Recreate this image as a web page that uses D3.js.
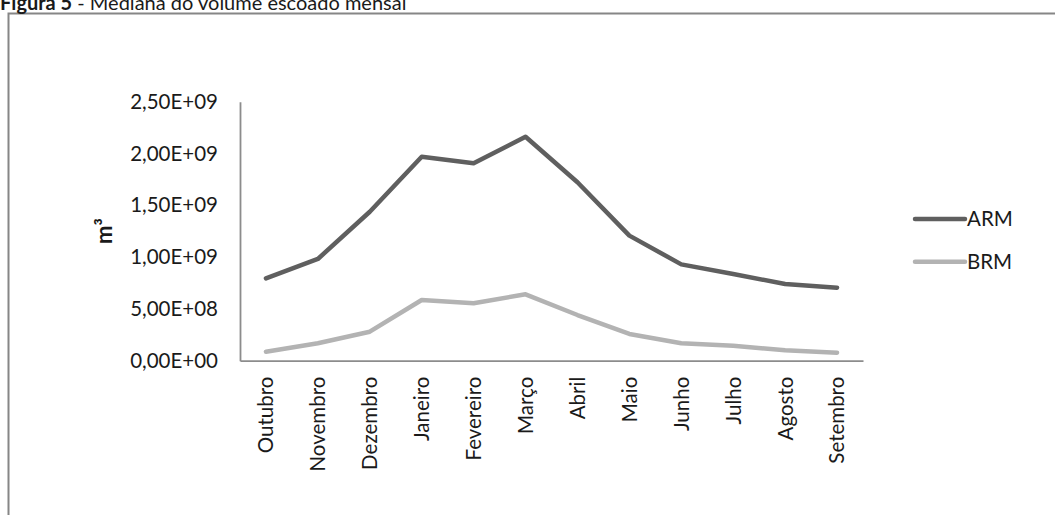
<!DOCTYPE html>
<html>
<head>
<meta charset="utf-8">
<script src="https://cdn.jsdelivr.net/npm/d3@7/dist/d3.min.js"></script>
<style>
  html, body { margin: 0; padding: 0; background: #fff; }
  svg { display: block; }
  text { font-family: Lato, "Open Sans", sans-serif; fill: #1a1a1a; }
</style>
</head>
<body>
<svg id="chart" width="1055" height="515"></svg>
<script>
// Median monthly runoff volume (m³), hydrological year October → September
const months = ["Outubro", "Novembro", "Dezembro", "Janeiro", "Fevereiro", "Março",
                "Abril", "Maio", "Junho", "Julho", "Agosto", "Setembro"];
const armValues = [7.95e8, 9.82e8, 1.438e9, 1.969e9, 1.905e9, 2.162e9,
                   1.722e9, 1.207e9, 9.30e8, 8.37e8, 7.40e8, 7.05e8];
const brmValues = [8.7e7, 1.68e8, 2.80e8, 5.86e8, 5.54e8, 6.41e8,
                   4.41e8, 2.58e8, 1.68e8, 1.45e8, 1.00e8, 7.7e7];
const yTicks = [0, 5e8, 1e9, 1.5e9, 2e9, 2.5e9];
const seriesNames = ["ARM", "BRM"];
const seriesColors = ["#5f5f5f", "#b3b3b3"];

const svg = d3.select("#chart");

// Excel-style scientific label: 2,50E+09
function sciLabel(v) {
  if (v === 0) return "0,00E+00";
  const exp = Math.floor(Math.log10(v));
  const mant = v / Math.pow(10, exp);
  return mant.toFixed(2).replace(".", ",") + "E+" + String(exp).padStart(2, "0");
}

// Frame of the figure
svg.append("path")
  .attr("d", "M1055,13.5 H8.5 V515")
  .attr("fill", "none")
  .attr("stroke", "#868686")
  .attr("stroke-width", 2);

// Caption
const title = svg.append("text")
  .attr("x", 0).attr("y", 9.5)
  .style("font-size", "20px");
title.append("tspan").style("font-weight", "bold").text("Figura 5");
title.append("tspan").text(" - Mediana do volume escoado mensal");

const x = d3.scaleBand().domain(months).range([240, 863]);
const y = d3.scaleLinear().domain([0, 2.5e9]).range([360.7, 101.7]);

// Y axis
const yAxis = svg.append("g")
  .attr("transform", "translate(240,0)")
  .call(d3.axisLeft(y).tickValues(yTicks).tickSize(0).tickPadding(22).tickFormat(sciLabel));
yAxis.select(".domain").attr("stroke", "#8c8c8c").attr("stroke-width", 1.8);
yAxis.selectAll("text")
  .style("font-size", "20.5px").style("font-family", null)
  .attr("fill", "#1a1a1a");

// X axis
const xAxis = svg.append("g")
  .attr("transform", "translate(0,360.7)")
  .call(d3.axisBottom(x).tickSize(0).tickSizeOuter(0));
xAxis.select(".domain").attr("stroke", "#8c8c8c").attr("stroke-width", 1.8);
xAxis.selectAll(".tick text")
  .style("font-size", "20.5px").style("font-family", null)
  .attr("fill", "#1a1a1a")
  .attr("text-anchor", "end")
  .attr("transform", "rotate(-90)")
  .attr("x", -16)
  .attr("y", 0)
  .attr("dy", "0.36em");

// Y axis title
svg.append("text")
  .attr("transform", "translate(104,231) rotate(-90)")
  .attr("text-anchor", "middle")
  .attr("dy", "0.35em")
  .style("font-size", "22px")
  .style("font-weight", "bold")
  .text("m³");

// Lines
const line = d3.line()
  .x((d, i) => x(months[i]) + x.bandwidth() / 2)
  .y(d => y(d));

[armValues, brmValues].forEach((vals, k) => {
  svg.append("path")
    .datum(vals)
    .attr("d", line)
    .attr("fill", "none")
    .attr("stroke", seriesColors[k])
    .attr("stroke-width", 4.5)
    .attr("stroke-linejoin", "round")
    .attr("stroke-linecap", "round");
});

// Legend
const legend = svg.append("g");
seriesNames.forEach((name, k) => {
  const ly = 219 + k * 42.7;
  legend.append("line")
    .attr("x1", 915).attr("x2", 965)
    .attr("y1", ly).attr("y2", ly)
    .attr("stroke", seriesColors[k])
    .attr("stroke-width", 4.5)
    .attr("stroke-linecap", "round");
  legend.append("text")
    .attr("x", 967).attr("y", ly)
    .attr("dy", "0.36em")
    .style("font-size", "20.5px")
    .text(name);
});
</script>
</body>
</html>
